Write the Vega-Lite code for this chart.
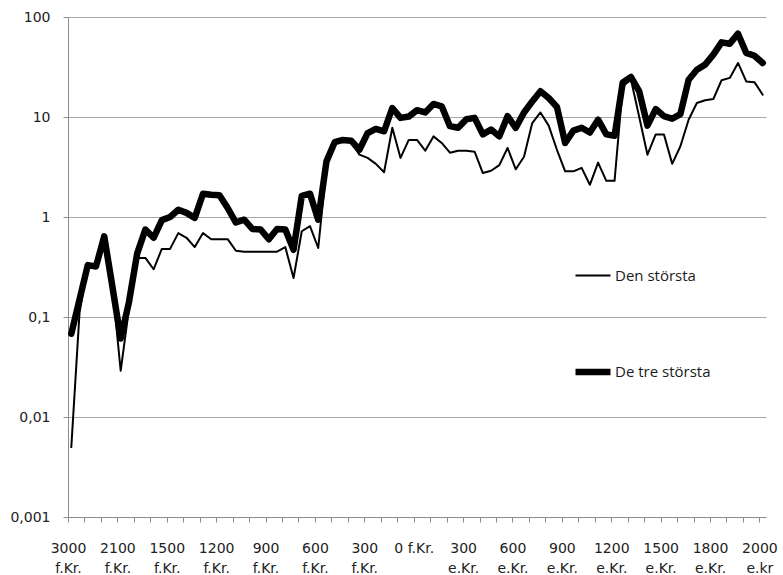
{
  "$schema": "https://vega.github.io/schema/vega-lite/v6.json",
  "width": 698,
  "height": 500,
  "autosize": "none",
  "padding": {"left": 68, "top": 17, "right": 17, "bottom": 58},
  "background": "white",
  "config": {"view": {"stroke": null}},
  "datasets": {
    "d": [
      {"i":0,"s":"Den största","v":0.005},{"i":1,"s":"Den största","v":0.11},{"i":2,"s":"Den största","v":0.33},{"i":3,"s":"Den största","v":0.32},{"i":4,"s":"Den största","v":0.64},{"i":5,"s":"Den största","v":0.2},{"i":6,"s":"Den största","v":0.029},{"i":7,"s":"Den största","v":0.12},{"i":8,"s":"Den största","v":0.39},{"i":9,"s":"Den största","v":0.39},
      {"i":10,"s":"Den största","v":0.30},{"i":11,"s":"Den största","v":0.48},{"i":12,"s":"Den största","v":0.48},{"i":13,"s":"Den största","v":0.69},{"i":14,"s":"Den största","v":0.62},{"i":15,"s":"Den största","v":0.50},{"i":16,"s":"Den största","v":0.69},{"i":17,"s":"Den största","v":0.60},{"i":18,"s":"Den största","v":0.60},{"i":19,"s":"Den största","v":0.60},
      {"i":20,"s":"Den största","v":0.46},{"i":21,"s":"Den största","v":0.45},{"i":22,"s":"Den största","v":0.45},{"i":23,"s":"Den största","v":0.45},{"i":24,"s":"Den största","v":0.45},{"i":25,"s":"Den största","v":0.45},{"i":26,"s":"Den största","v":0.50},{"i":27,"s":"Den största","v":0.245},{"i":28,"s":"Den största","v":0.72},{"i":29,"s":"Den största","v":0.81},
      {"i":30,"s":"Den största","v":0.49},{"i":31,"s":"Den största","v":3.2},{"i":32,"s":"Den största","v":5.6},{"i":33,"s":"Den största","v":5.9},{"i":34,"s":"Den största","v":5.6},{"i":35,"s":"Den största","v":4.2},{"i":36,"s":"Den största","v":3.9},{"i":37,"s":"Den största","v":3.4},{"i":38,"s":"Den största","v":2.8},{"i":39,"s":"Den största","v":7.8},
      {"i":40,"s":"Den största","v":3.9},{"i":41,"s":"Den största","v":5.9},{"i":42,"s":"Den största","v":5.9},{"i":43,"s":"Den största","v":4.6},{"i":44,"s":"Den största","v":6.4},{"i":45,"s":"Den största","v":5.5},{"i":46,"s":"Den största","v":4.4},{"i":47,"s":"Den största","v":4.6},{"i":48,"s":"Den största","v":4.6},{"i":49,"s":"Den största","v":4.5},
      {"i":50,"s":"Den största","v":2.75},{"i":51,"s":"Den största","v":2.9},{"i":52,"s":"Den största","v":3.3},{"i":53,"s":"Den största","v":4.9},{"i":54,"s":"Den största","v":3.0},{"i":55,"s":"Den största","v":4.0},{"i":56,"s":"Den största","v":8.7},{"i":57,"s":"Den största","v":11.1},{"i":58,"s":"Den största","v":8.2},{"i":59,"s":"Den största","v":4.7},
      {"i":60,"s":"Den största","v":2.86},{"i":61,"s":"Den största","v":2.86},{"i":62,"s":"Den största","v":3.1},{"i":63,"s":"Den största","v":2.1},{"i":64,"s":"Den största","v":3.5},{"i":65,"s":"Den största","v":2.3},{"i":66,"s":"Den största","v":2.3},{"i":67,"s":"Den största","v":20.3},{"i":68,"s":"Den största","v":23.6},{"i":69,"s":"Den största","v":10},
      {"i":70,"s":"Den största","v":4.2},{"i":71,"s":"Den största","v":6.7},{"i":72,"s":"Den största","v":6.7},{"i":73,"s":"Den största","v":3.4},{"i":74,"s":"Den största","v":5.1},{"i":75,"s":"Den största","v":9.4},{"i":76,"s":"Den största","v":13.8},{"i":77,"s":"Den största","v":14.7},{"i":78,"s":"Den största","v":15.1},{"i":79,"s":"Den största","v":23.3},
      {"i":80,"s":"Den största","v":24.6},{"i":81,"s":"Den största","v":34.7},{"i":82,"s":"Den största","v":22.7},{"i":83,"s":"Den största","v":22.3},{"i":84,"s":"Den största","v":16.7},
      {"i":0,"s":"De tre största","v":0.068},{"i":1,"s":"De tre största","v":0.15},{"i":2,"s":"De tre största","v":0.33},{"i":3,"s":"De tre största","v":0.32},{"i":4,"s":"De tre största","v":0.64},{"i":5,"s":"De tre största","v":0.2},{"i":6,"s":"De tre största","v":0.061},{"i":7,"s":"De tre största","v":0.14},{"i":8,"s":"De tre största","v":0.43},{"i":9,"s":"De tre största","v":0.75},
      {"i":10,"s":"De tre största","v":0.62},{"i":11,"s":"De tre största","v":0.93},{"i":12,"s":"De tre största","v":1.0},{"i":13,"s":"De tre största","v":1.18},{"i":14,"s":"De tre största","v":1.1},{"i":15,"s":"De tre största","v":0.98},{"i":16,"s":"De tre största","v":1.71},{"i":17,"s":"De tre största","v":1.67},{"i":18,"s":"De tre största","v":1.65},{"i":19,"s":"De tre största","v":1.23},
      {"i":20,"s":"De tre största","v":0.88},{"i":21,"s":"De tre största","v":0.94},{"i":22,"s":"De tre största","v":0.76},{"i":23,"s":"De tre största","v":0.75},{"i":24,"s":"De tre största","v":0.60},{"i":25,"s":"De tre största","v":0.76},{"i":26,"s":"De tre största","v":0.75},{"i":27,"s":"De tre största","v":0.47},{"i":28,"s":"De tre största","v":1.63},{"i":29,"s":"De tre största","v":1.71},
      {"i":30,"s":"De tre största","v":0.94},{"i":31,"s":"De tre största","v":3.6},{"i":32,"s":"De tre största","v":5.6},{"i":33,"s":"De tre största","v":5.9},{"i":34,"s":"De tre största","v":5.8},{"i":35,"s":"De tre största","v":4.7},{"i":36,"s":"De tre största","v":6.9},{"i":37,"s":"De tre största","v":7.6},{"i":38,"s":"De tre största","v":7.2},{"i":39,"s":"De tre största","v":12.3},
      {"i":40,"s":"De tre största","v":9.8},{"i":41,"s":"De tre största","v":10.1},{"i":42,"s":"De tre största","v":11.7},{"i":43,"s":"De tre största","v":11.1},{"i":44,"s":"De tre största","v":13.5},{"i":45,"s":"De tre största","v":12.8},{"i":46,"s":"De tre största","v":8.1},{"i":47,"s":"De tre största","v":7.8},{"i":48,"s":"De tre största","v":9.5},{"i":49,"s":"De tre största","v":9.8},
      {"i":50,"s":"De tre största","v":6.7},{"i":51,"s":"De tre största","v":7.5},{"i":52,"s":"De tre största","v":6.4},{"i":53,"s":"De tre största","v":10.2},{"i":54,"s":"De tre största","v":7.8},{"i":55,"s":"De tre största","v":11.1},{"i":56,"s":"De tre största","v":14.3},{"i":57,"s":"De tre största","v":18.1},{"i":58,"s":"De tre största","v":15.5},{"i":59,"s":"De tre största","v":12.6},
      {"i":60,"s":"De tre största","v":5.5},{"i":61,"s":"De tre största","v":7.3},{"i":62,"s":"De tre största","v":7.8},{"i":63,"s":"De tre största","v":7.0},{"i":64,"s":"De tre största","v":9.4},{"i":65,"s":"De tre största","v":6.7},{"i":66,"s":"De tre största","v":6.5},{"i":67,"s":"De tre största","v":22.2},{"i":68,"s":"De tre största","v":25.1},{"i":69,"s":"De tre största","v":18},
      {"i":70,"s":"De tre största","v":8.2},{"i":71,"s":"De tre största","v":12.0},{"i":72,"s":"De tre största","v":10.2},{"i":73,"s":"De tre största","v":9.6},{"i":74,"s":"De tre största","v":10.7},{"i":75,"s":"De tre största","v":23.6},{"i":76,"s":"De tre största","v":29.7},{"i":77,"s":"De tre största","v":33.4},{"i":78,"s":"De tre största","v":42},{"i":79,"s":"De tre största","v":55.8},
      {"i":80,"s":"De tre största","v":54.1},{"i":81,"s":"De tre största","v":68.1},{"i":82,"s":"De tre största","v":43.7},{"i":83,"s":"De tre största","v":41},{"i":84,"s":"De tre största","v":34.7}
    ]
  },
  "data": {"name": "d"},
  "mark": {"type": "line", "strokeJoin": "round", "strokeCap": "round"},
  "encoding": {
    "x": {
      "field": "i", "type": "quantitative",
      "scale": {"domain": [-0.4, 84.4], "nice": false, "zero": false},
      "axis": {
        "title": null, "grid": false,
        "values": [-0.4,1.6,3.6,5.6,7.6,9.6,11.6,13.6,15.6,17.6,19.6,21.6,23.6,25.6,27.6,29.6,31.6,33.6,35.6,37.6,39.6,41.6,43.6,45.6,47.6,49.6,51.6,53.6,55.6,57.6,59.6,61.6,63.6,65.6,67.6,69.6,71.6,73.6,75.6,77.6,79.6,81.6,83.6],
        "labelExpr": "round((datum.value + 0.4) / 2) % 3 == 0 ? split(['3000|f.Kr.','2100|f.Kr.','1500|f.Kr.','1200|f.Kr.','900|f.Kr.','600|f.Kr.','300|f.Kr.','0 f.Kr.','300|e.Kr.','600|e.Kr.','900|e.Kr.','1200|e.Kr.','1500|e.Kr.','1800|e.Kr.','2000|e.kr'][round((datum.value + 0.4) / 6)], '|') : ''",
        "tickSize": 5, "tickColor": "#8c8c8c", "domainColor": "#8c8c8c",
        "labelFont": "DejaVu Sans", "labelFontSize": 14, "labelColor": "#222222",
        "labelPadding": 19, "labelOverlap": false, "labelFlush": false, "labelBound": false,
        "labelDx": 3, "labelLineHeight": 20, "labelBaseline": "top"
      }
    },
    "y": {
      "field": "v", "type": "quantitative",
      "scale": {"type": "log", "domain": [0.001, 100], "nice": false},
      "axis": {
        "title": null, "grid": true, "gridColor": "#a6a6a6",
        "values": [0.001, 0.01, 0.1, 1, 10, 100],
        "labelExpr": "replace(toString(datum.value), '.', ',')",
        "tickSize": 5, "tickColor": "#8c8c8c", "domainColor": "#8c8c8c",
        "labelFont": "DejaVu Sans", "labelFontSize": 14, "labelColor": "#222222",
        "labelPadding": 13
      }
    },
    "color": {
      "field": "s", "type": "nominal",
      "scale": {"domain": ["Den största", "De tre största"], "range": ["#000000", "#000000"]},
      "legend": {
        "title": null, "orient": "none", "legendX": 504, "legendY": 240, "direction": "vertical",
        "symbolType": "stroke", "symbolSize": 1225, "rowPadding": 67, "padding": 0,
        "labelFont": "Open Sans", "labelFontSize": 15, "labelColor": "#1a1a1a", "labelOffset": 1
      }
    },
    "strokeWidth": {
      "field": "s", "type": "nominal",
      "scale": {"domain": ["Den största", "De tre största"], "range": [2, 6.5]},
      "legend": {
        "title": null, "orient": "none", "legendX": 504, "legendY": 240, "direction": "vertical",
        "symbolType": "stroke", "symbolSize": 1225, "rowPadding": 67, "padding": 0,
        "labelFont": "Open Sans", "labelFontSize": 15, "labelColor": "#1a1a1a", "labelOffset": 1
      }
    }
  }
}
